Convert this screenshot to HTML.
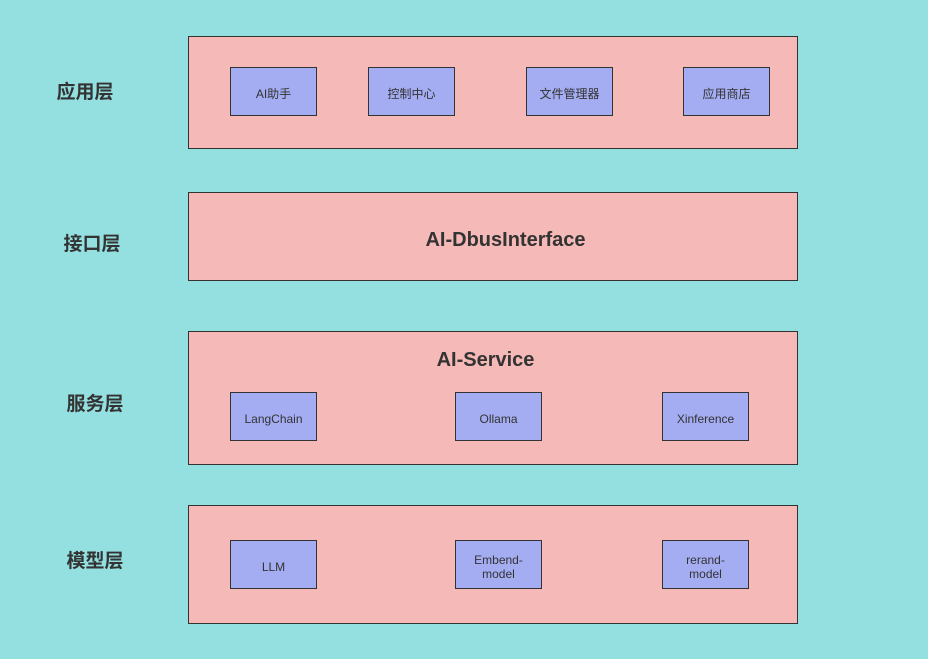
<!DOCTYPE html>
<html><head><meta charset="utf-8"><style>
body{margin:0;width:928px;height:659px;background:#94dfe0;position:relative;overflow:hidden;font-family:"Liberation Sans","Noto Sans CJK SC",sans-serif;color:#333}
.L{position:absolute;font-size:19px;font-weight:bold;width:120px;text-align:center;left:24px}
.P{position:absolute;left:188px;width:610px;background:#f5b9b7;border:1.5px solid #333;box-sizing:border-box}
.B{position:absolute;width:87px;height:49px;background:#a4adf2;border:1.5px solid #333;box-sizing:border-box;display:flex;align-items:center;justify-content:center;text-align:center;font-size:12px;line-height:14px;padding-top:4px}
.T{position:absolute;font-size:20px;font-weight:bold;text-align:center}
</style></head><body>
<div class="L" style="top:77px;left:25px">应用层</div>
<div class="L" style="top:229px;left:32px">接口层</div>
<div class="L" style="top:389px;left:35px">服务层</div>
<div class="L" style="top:546px;left:35px">模型层</div>

<div class="P" style="top:36px;height:113px"></div>
<div class="B" style="left:230px;top:67px">AI助手</div>
<div class="B" style="left:368px;top:67px">控制中心</div>
<div class="B" style="left:526px;top:67px">文件管理器</div>
<div class="B" style="left:683px;top:67px">应用商店</div>

<div class="P" style="top:192px;height:89px"></div>
<div class="T" style="left:188px;width:635px;top:229px">AI-DbusInterface</div>

<div class="P" style="top:331px;height:134px"></div>
<div class="T" style="left:188px;width:595px;top:349px">AI-Service</div>
<div class="B" style="left:230px;top:392px">LangChain</div>
<div class="B" style="left:455px;top:392px">Ollama</div>
<div class="B" style="left:662px;top:392px">Xinference</div>

<div class="P" style="top:505px;height:119px"></div>
<div class="B" style="left:230px;top:540px">LLM</div>
<div class="B" style="left:455px;top:540px">Embend-<br>model</div>
<div class="B" style="left:662px;top:540px">rerand-<br>model</div>
</body></html>
